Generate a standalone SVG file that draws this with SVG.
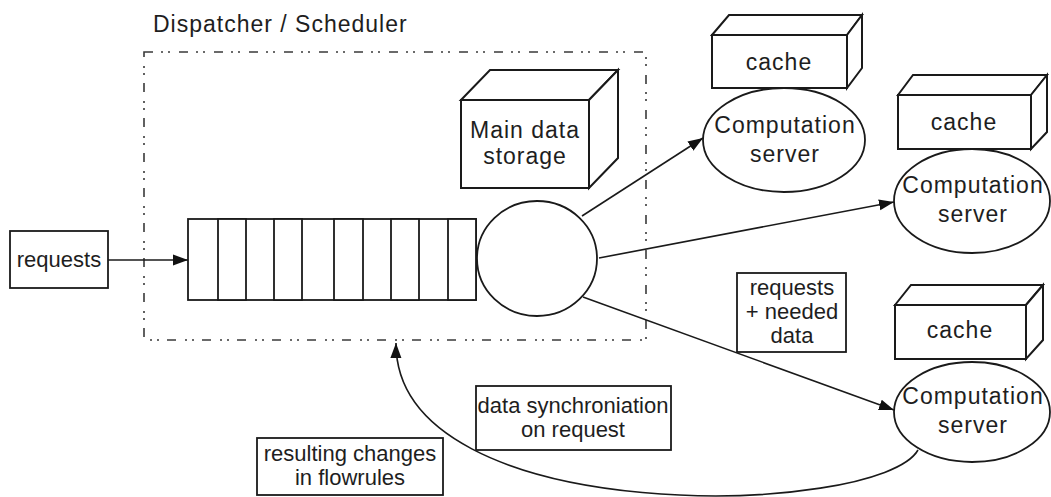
<svg xmlns="http://www.w3.org/2000/svg" width="1051" height="497" viewBox="0 0 1051 497">
<style>
  .ln { fill: none; stroke: #1a1a1a; stroke-width: 1.6; }
  .shape { fill: #ffffff; stroke: #1a1a1a; stroke-width: 1.8; }
  .box3d { fill: #ffffff; stroke: #1a1a1a; stroke-width: 2; stroke-linejoin: miter; }
  .dash { fill: none; stroke: #3a3a3a; stroke-width: 1.6; stroke-dasharray: 9 8 2 5 2 9; }
  .t { font-family: "Liberation Sans", Arial, sans-serif; fill: #1e1e1e; text-anchor: middle; }
  .big { font-size: 23px; letter-spacing: 1px; }
  .lab { font-size: 22px; }
  .title { font-family: "Liberation Sans", Arial, sans-serif; fill: #1e1e1e; font-size: 23px; letter-spacing: 1px; }
</style>
<defs>
  <marker id="arr" markerUnits="userSpaceOnUse" markerWidth="16" markerHeight="12" refX="15" refY="6" orient="auto">
    <path d="M0,0.5 L15,6 L0,11.5 Z" fill="#111"/>
  </marker>
</defs>
<rect width="1051" height="497" fill="#ffffff"/>

<g id="dispatcher">
  <rect class="dash" x="144" y="52" width="502" height="288"/>
  <text class="title" x="153" y="32">Dispatcher / Scheduler</text>
</g>

<g id="connectors">
  <line class="ln" x1="108" y1="260" x2="188" y2="260" marker-end="url(#arr)"/>
  <line class="ln" x1="582" y1="216" x2="703" y2="138" marker-end="url(#arr)"/>
  <line class="ln" x1="599" y1="258" x2="894" y2="202" marker-end="url(#arr)"/>
  <line class="ln" x1="583" y1="297" x2="894" y2="410" marker-end="url(#arr)"/>
  <path class="ln" d="M918,450 C880,517 395,532 396,343" marker-end="url(#arr)"/>
</g>

<g id="requests">
  <rect class="shape" x="10" y="231" width="98" height="57"/>
  <text class="t lab" x="59" y="267">requests</text>
</g>

<g id="queue">
  <rect class="shape" x="188" y="219" width="288" height="81"/>
  <rect class="shape" x="218" y="219" width="28" height="81"/>
  <rect class="shape" x="274" y="219" width="28" height="81"/>
  <rect class="shape" x="334" y="219" width="29" height="81"/>
  <rect class="shape" x="391" y="219" width="28" height="81"/>
  <rect class="shape" x="448" y="219" width="28" height="81"/>
</g>

<g id="scheduler">
  <ellipse class="shape" cx="537" cy="258.5" rx="60" ry="57.5"/>
</g>

<g id="main-storage">
  <polygon class="box3d" points="461,100 490,70 618,70 589,100"/>
  <polygon class="box3d" points="589,100 618,70 618,158 589,188"/>
  <rect class="box3d" x="461" y="100" width="128" height="88"/>
  <text class="t big" x="525" y="138">Main data</text>
  <text class="t big" x="525" y="164">storage</text>
</g>

<g id="cache1">
  <polygon class="box3d" points="712,35 729,15 862,15 847,35"/>
  <polygon class="box3d" points="847,35 862,15 862,68 847,88"/>
  <rect class="box3d" x="712" y="35" width="135" height="53"/>
  <text class="t big" x="779" y="70">cache</text>
</g>
<g id="server1">
  <ellipse class="shape" cx="784" cy="140" rx="81" ry="52"/>
  <text class="t big" x="785" y="133">Computation</text>
  <text class="t big" x="785" y="162">server</text>
</g>

<g id="cache2">
  <polygon class="box3d" points="898,95 913,75 1047,75 1031,95"/>
  <polygon class="box3d" points="1031,95 1047,75 1047,132 1031,149"/>
  <rect class="box3d" x="898" y="95" width="133" height="54"/>
  <text class="t big" x="964" y="130">cache</text>
</g>
<g id="server2">
  <ellipse class="shape" cx="972" cy="201" rx="78" ry="52"/>
  <text class="t big" x="973" y="193">Computation</text>
  <text class="t big" x="973" y="222">server</text>
</g>

<g id="cache3">
  <polygon class="box3d" points="895,305 911,285 1043,285 1026,305"/>
  <polygon class="box3d" points="1026,305 1043,285 1043,340 1026,359"/>
  <rect class="box3d" x="895" y="305" width="131" height="54"/>
  <text class="t big" x="960" y="338">cache</text>
</g>
<g id="server3">
  <ellipse class="shape" cx="972" cy="412" rx="78" ry="50"/>
  <text class="t big" x="973" y="404">Computation</text>
  <text class="t big" x="973" y="433">server</text>
</g>

<g id="label-needed-data">
  <rect class="shape" x="737" y="273" width="109" height="79"/>
  <text class="t lab" x="792" y="295">requests</text>
  <text class="t lab" x="792" y="319">+ needed</text>
  <text class="t lab" x="792" y="343">data</text>
</g>

<g id="label-sync">
  <rect class="shape" x="476" y="386" width="195" height="64"/>
  <text class="t lab" x="573" y="413">data synchroniation</text>
  <text class="t lab" x="573" y="437">on request</text>
</g>

<g id="label-flowrules">
  <rect class="shape" x="257" y="438" width="186" height="57"/>
  <text class="t lab" x="350" y="461">resulting changes</text>
  <text class="t lab" x="350" y="485">in flowrules</text>
</g>
</svg>
